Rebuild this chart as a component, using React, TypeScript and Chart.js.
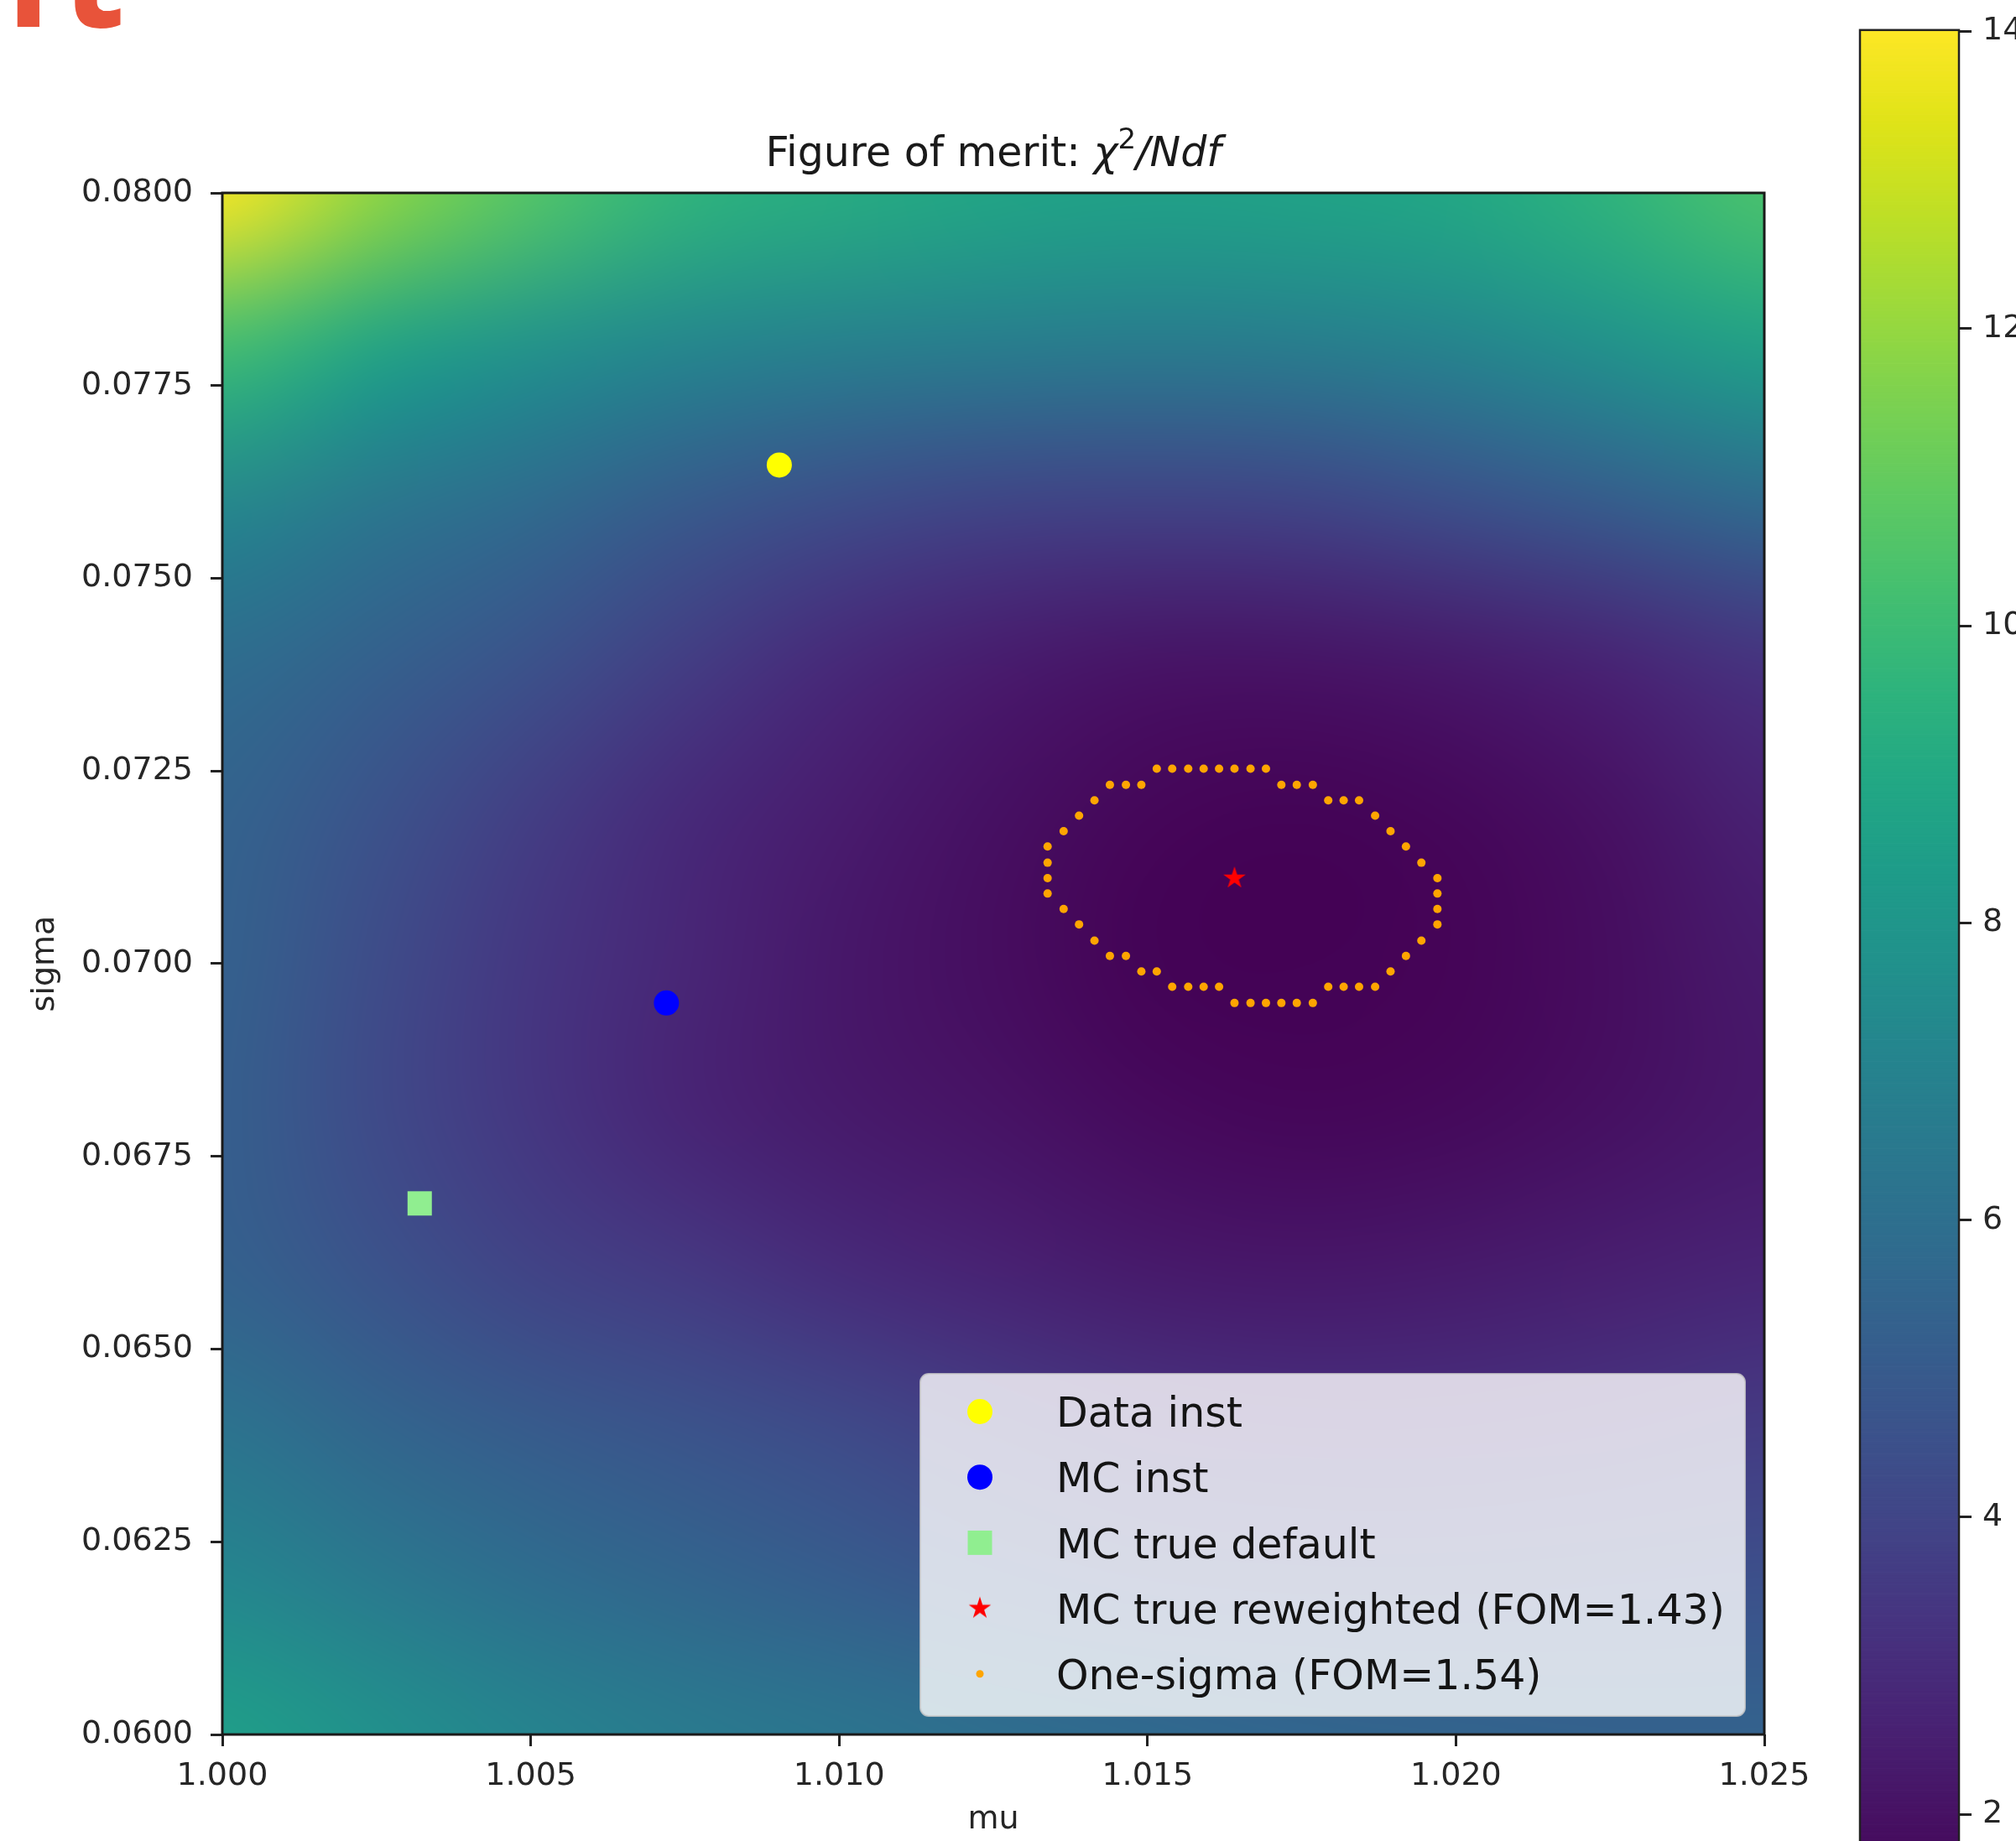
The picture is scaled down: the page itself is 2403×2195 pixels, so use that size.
import React, { useEffect, useRef } from 'react';
import { Chart, registerables } from 'chart.js';

Chart.register(...registerables);

const FONT = "'DejaVu Sans', 'Liberation Sans', sans-serif";

// ---------------- data ----------------
const muGrid = [1.0, 1.0025, 1.005, 1.0075, 1.01, 1.0125, 1.015, 1.0175, 1.02, 1.0225, 1.025];
const sigmaGrid = [0.08, 0.078, 0.076, 0.074, 0.072, 0.07, 0.068, 0.066, 0.064, 0.062, 0.06];

// chi2/Ndf read along each sigma row (mu from 1.000 to 1.025)
const fomAt0800 = [13.9, 11.9, 10.6, 9.6, 9.2, 8.8, 8.6, 8.7, 9.0, 9.6, 10.4];
const fomAt0780 = [10.1, 8.7, 7.8, 7.2, 6.9, 6.7, 6.6, 6.7, 7.1, 7.8, 8.6];
const fomAt0760 = [7.3, 6.4, 5.8, 5.0, 4.4, 4.0, 3.9, 4.0, 4.5, 5.1, 5.8];
const fomAt0740 = [5.9, 5.3, 4.6, 3.7, 2.9, 2.4, 2.1, 2.1, 2.3, 2.7, 3.3];
const fomAt0720 = [5.4, 4.6, 3.7, 2.9, 2.4, 1.95, 1.6, 1.5, 1.65, 2.0, 2.6];
const fomAt0700 = [5.3, 4.3, 3.4, 2.75, 2.2, 1.85, 1.5, 1.45, 1.55, 1.85, 2.3];
const fomAt0680 = [5.2, 4.2, 3.4, 2.7, 2.3, 2.05, 1.75, 1.6, 1.7, 1.95, 2.25];
const fomAt0660 = [5.3, 4.6, 3.9, 3.5, 2.95, 2.6, 2.3, 2.2, 2.3, 2.5, 2.7];
const fomAt0640 = [6.2, 5.5, 5.0, 4.6, 4.2, 3.7, 3.35, 3.2, 3.2, 3.35, 3.6];
const fomAt0620 = [7.2, 6.5, 5.9, 5.5, 5.1, 4.7, 4.4, 4.3, 4.3, 4.4, 4.5];
const fomAt0600 = [8.5, 7.7, 7.1, 6.6, 6.3, 6.0, 5.8, 5.6, 5.5, 5.4, 5.4];

const fomMin = 1.43;
const fomMax = 14.01;

const dataInstMu = [1.00903];
const dataInstSigma = [0.07647];
const mcInstMu = [1.0072];
const mcInstSigma = [0.06949];
const mcTrueDefaultMu = [1.0032];
const mcTrueDefaultSigma = [0.06689];
const mcReweightedMu = [1.01641];
const mcReweightedSigma = [0.07111];

const oneSigmaMu = [
  1.01515, 1.0154, 1.01566, 1.01591, 1.01616, 1.01641, 1.01667, 1.01692,
  1.01439, 1.01465, 1.0149, 1.01717, 1.01742, 1.01768,
  1.01414, 1.01793, 1.01818, 1.01843,
  1.01389, 1.01869,
  1.01364, 1.01894,
  1.01338, 1.01919,
  1.01338, 1.01944,
  1.01338, 1.0197,
  1.01338, 1.0197,
  1.01364, 1.0197,
  1.01389, 1.0197,
  1.01414, 1.01944,
  1.01439, 1.01465, 1.01919,
  1.0149, 1.01515, 1.01894,
  1.0154, 1.01566, 1.01591, 1.01616, 1.01793, 1.01818, 1.01843, 1.01869,
  1.01641, 1.01667, 1.01692, 1.01717, 1.01742, 1.01768,
];
const oneSigmaSigma = [
  0.07253, 0.07253, 0.07253, 0.07253, 0.07253, 0.07253, 0.07253, 0.07253,
  0.07232, 0.07232, 0.07232, 0.07232, 0.07232, 0.07232,
  0.07212, 0.07212, 0.07212, 0.07212,
  0.07192, 0.07192,
  0.07172, 0.07172,
  0.07152, 0.07152,
  0.07131, 0.07131,
  0.07111, 0.07111,
  0.07091, 0.07091,
  0.07071, 0.07071,
  0.07051, 0.07051,
  0.0703, 0.0703,
  0.0701, 0.0701, 0.0701,
  0.0699, 0.0699, 0.0699,
  0.0697, 0.0697, 0.0697, 0.0697, 0.0697, 0.0697, 0.0697, 0.0697,
  0.06949, 0.06949, 0.06949, 0.06949, 0.06949, 0.06949,
];

const seriesLabels = [
  'Data inst',
  'MC inst',
  'MC true default',
  'MC true reweighted (FOM=1.43)',
  'One-sigma (FOM=1.54)',
];

const xTickValues = [1.0, 1.005, 1.01, 1.015, 1.02, 1.025];
const xTickLabels = ['1.000', '1.005', '1.010', '1.015', '1.020', '1.025'];
const yTickValues = [0.06, 0.0625, 0.065, 0.0675, 0.07, 0.0725, 0.075, 0.0775, 0.08];
const yTickLabels = ['0.0600', '0.0625', '0.0650', '0.0675', '0.0700', '0.0725', '0.0750', '0.0775', '0.0800'];
const cbTickValues = [2, 4, 6, 8, 10, 12, 14];
const cbTickLabels = ['2', '4', '6', '8', '10', '12', '14'];

const titleMain = 'Figure of merit: ';
const titleChi = 'χ';
const titleSup = '2';
const titleRest = '/Ndf';
const xAxisTitle = 'mu';
const yAxisTitle = 'sigma';
const cornerText = 'it';

// ---------------- styling helpers ----------------
const fomGrid = [
  fomAt0800, fomAt0780, fomAt0760, fomAt0740, fomAt0720, fomAt0700,
  fomAt0680, fomAt0660, fomAt0640, fomAt0620, fomAt0600,
];

const VIRIDIS = [
  '#440154', '#471365', '#482475', '#463480', '#414487', '#3b528b', '#355f8d',
  '#2f6c8e', '#2a788e', '#25848e', '#21918c', '#1e9c89', '#22a884', '#2fb47c',
  '#44bf70', '#5ec962', '#7ad151', '#9bd93c', '#bddf26', '#dfe318', '#fde725',
];
const VIR_RGB = VIRIDIS.map((h) => [
  parseInt(h.slice(1, 3), 16),
  parseInt(h.slice(3, 5), 16),
  parseInt(h.slice(5, 7), 16),
]);
function viridis(t: number): number[] {
  const tt = Math.max(0, Math.min(1, t));
  const p = tt * (VIR_RGB.length - 1);
  const i = Math.min(VIR_RGB.length - 2, Math.floor(p));
  const f = p - i;
  const a = VIR_RGB[i];
  const b = VIR_RGB[i + 1];
  return [a[0] + (b[0] - a[0]) * f, a[1] + (b[1] - a[1]) * f, a[2] + (b[2] - a[2]) * f];
}
const norm = (v: number) => (v - fomMin) / (fomMax - fomMin);

function makeStar(R: number, color: string): HTMLCanvasElement {
  const c = document.createElement('canvas');
  const s = Math.ceil(R * 2 + 4);
  c.width = s;
  c.height = s;
  const g = c.getContext('2d')!;
  g.translate(s / 2, s / 2);
  g.beginPath();
  for (let k = 0; k < 10; k++) {
    const r = k % 2 === 0 ? R : R * 0.381966;
    const a = -Math.PI / 2 + (k * Math.PI) / 5;
    const px = r * Math.cos(a);
    const py = r * Math.sin(a);
    if (k === 0) g.moveTo(px, py);
    else g.lineTo(px, py);
  }
  g.closePath();
  g.fillStyle = color;
  g.fill();
  return c;
}

const toPoints = (xs: number[], ys: number[]) => xs.map((x, i) => ({ x, y: ys[i] }));

const heatmapPlugin = {
  id: 'heatmap',
  beforeDatasetsDraw(chart: any) {
    const { ctx, chartArea, scales } = chart;
    const xs = scales.x;
    const ys = scales.y;
    const nC = muGrid.length;
    const nR = sigmaGrid.length;
    const off = document.createElement('canvas');
    off.width = nC;
    off.height = nR;
    const octx = off.getContext('2d')!;
    const img = octx.createImageData(nC, nR);
    for (let r = 0; r < nR; r++) {
      for (let c = 0; c < nC; c++) {
        const col = viridis(norm(fomGrid[r][c]));
        const k = (r * nC + c) * 4;
        img.data[k] = Math.round(col[0]);
        img.data[k + 1] = Math.round(col[1]);
        img.data[k + 2] = Math.round(col[2]);
        img.data[k + 3] = 255;
      }
    }
    octx.putImageData(img, 0, 0);
    const dmu = (muGrid[nC - 1] - muGrid[0]) / (nC - 1);
    const ds = (sigmaGrid[0] - sigmaGrid[nR - 1]) / (nR - 1);
    const x0 = xs.getPixelForValue(muGrid[0] - dmu / 2);
    const x1 = xs.getPixelForValue(muGrid[nC - 1] + dmu / 2);
    const y0 = ys.getPixelForValue(sigmaGrid[0] + ds / 2);
    const y1 = ys.getPixelForValue(sigmaGrid[nR - 1] - ds / 2);
    ctx.save();
    ctx.beginPath();
    ctx.rect(chartArea.left, chartArea.top, chartArea.right - chartArea.left, chartArea.bottom - chartArea.top);
    ctx.clip();
    ctx.imageSmoothingEnabled = true;
    ctx.imageSmoothingQuality = 'high';
    ctx.drawImage(off, x0, y0, x1 - x0, y1 - y0);
    ctx.restore();
  },
};

function drawMarker(ctx: CanvasRenderingContext2D, ds: any, x: number, y: number) {
  const style = ds.pointStyle;
  const r = ds.pointRadius;
  ctx.fillStyle = ds.pointBackgroundColor;
  if (style && typeof style === 'object') {
    ctx.drawImage(style, x - style.width / 2, y - style.height / 2);
  } else if (style === 'rect') {
    const h = r * Math.SQRT1_2;
    ctx.fillRect(x - h, y - h, 2 * h, 2 * h);
  } else {
    ctx.beginPath();
    ctx.arc(x, y, r, 0, Math.PI * 2);
    ctx.fill();
  }
}

const legendPlugin = {
  id: 'mplLegend',
  afterDatasetsDraw(chart: any) {
    const { ctx, chartArea } = chart;
    const w = 983;
    const h = 408;
    const right = chartArea.right - 23;
    const bottom = chartArea.bottom - 22;
    const left = right - w;
    const top = bottom - h;
    ctx.save();
    ctx.beginPath();
    ctx.roundRect(left, top, w, h, 10);
    ctx.fillStyle = 'rgba(255,255,255,0.8)';
    ctx.fill();
    ctx.lineWidth = 2;
    ctx.strokeStyle = 'rgba(204,204,204,0.8)';
    ctx.stroke();
    const fs = 49;
    chart.data.datasets.forEach((ds: any, i: number) => {
      const cy = top + 45 + i * 78.2;
      const legendDs = i === 4 ? { ...ds, pointRadius: 4.5 } : ds;
      drawMarker(ctx, legendDs, left + 71, cy);
      ctx.font = `${fs}px ${FONT}`;
      ctx.fillStyle = '#141414';
      ctx.textAlign = 'left';
      ctx.textBaseline = 'alphabetic';
      ctx.fillText(ds.label, left + 162, cy + fs * 0.37);
    });
    ctx.restore();
  },
};

const framePlugin = {
  id: 'frameAndTitle',
  afterDraw(chart: any) {
    const { ctx, chartArea } = chart;
    ctx.save();
    ctx.lineWidth = 3;
    ctx.strokeStyle = '#1a1a1a';
    ctx.strokeRect(chartArea.left, chartArea.top, chartArea.right - chartArea.left, chartArea.bottom - chartArea.top);

    // title with mathtext-like pieces
    const size = 49;
    const parts = [
      { text: titleMain, font: `${size}px ${FONT}`, dy: 0 },
      { text: titleChi, font: `italic ${size}px ${FONT}`, dy: 0 },
      { text: titleSup, font: `${Math.round(size * 0.7)}px ${FONT}`, dy: -size * 0.42 },
      { text: titleRest, font: `italic ${size}px ${FONT}`, dy: 0 },
    ];
    let total = 0;
    const widths = parts.map((p) => {
      ctx.font = p.font;
      const wv = ctx.measureText(p.text).width;
      total += wv;
      return wv;
    });
    let x = (chartArea.left + chartArea.right) / 2 - total / 2;
    const base = chartArea.top - 32;
    ctx.fillStyle = '#1a1a1a';
    ctx.textAlign = 'left';
    ctx.textBaseline = 'alphabetic';
    parts.forEach((p, i) => {
      ctx.font = p.font;
      ctx.fillText(p.text, x, base + p.dy);
      x += widths[i];
    });

    // cropped slide heading fragment at the top-left
    ctx.font = `bold 176px 'Open Sans', 'DejaVu Sans', sans-serif`;
    (ctx as any).letterSpacing = '12px';
    ctx.fillStyle = '#e8533a';
    ctx.fillText(cornerText, 7, 32);
    (ctx as any).letterSpacing = '0px';
    ctx.restore();
  },
};

const colorbarPlugin = {
  id: 'cbGradient',
  beforeDatasetsDraw(chart: any) {
    const { ctx, chartArea, scales } = chart;
    const y = scales.y;
    const n = 600;
    ctx.save();
    for (let k = 0; k < n; k++) {
      const v0 = fomMin + ((fomMax - fomMin) * k) / n;
      const v1 = fomMin + ((fomMax - fomMin) * (k + 1)) / n;
      const ya = y.getPixelForValue(v1);
      const yb = y.getPixelForValue(v0);
      const c = viridis(norm((v0 + v1) / 2));
      ctx.fillStyle = `rgb(${Math.round(c[0])},${Math.round(c[1])},${Math.round(c[2])})`;
      ctx.fillRect(chartArea.left, ya, chartArea.right - chartArea.left, yb - ya + 0.7);
    }
    ctx.lineWidth = 2.5;
    ctx.strokeStyle = '#222';
    ctx.strokeRect(chartArea.left, chartArea.top, chartArea.right - chartArea.left, chartArea.bottom - chartArea.top);
    ctx.restore();
  },
};

export default function App() {
  const mainRef = useRef<HTMLCanvasElement>(null);
  const cbRef = useRef<HTMLCanvasElement>(null);

  useEffect(() => {
    const star = makeStar(14, '#ff0000');
    const tickFont = { family: FONT, size: 38 };
    const grid = {
      drawOnChartArea: false,
      drawTicks: true,
      tickLength: 14,
      tickWidth: 3,
      tickColor: '#222',
      lineWidth: 3,
      color: '#222',
    };
    const main = new Chart(mainRef.current!, {
      type: 'scatter',
      data: {
        datasets: [
          {
            label: seriesLabels[0],
            data: toPoints(dataInstMu, dataInstSigma),
            pointStyle: 'circle',
            pointRadius: 15,
            pointBorderWidth: 0,
            pointBackgroundColor: '#ffff00',
            pointBorderColor: '#ffff00',
            backgroundColor: '#ffff00',
            borderColor: '#ffff00',
          },
          {
            label: seriesLabels[1],
            data: toPoints(mcInstMu, mcInstSigma),
            pointStyle: 'circle',
            pointRadius: 15,
            pointBorderWidth: 0,
            pointBackgroundColor: '#0000ff',
            pointBorderColor: '#0000ff',
            backgroundColor: '#0000ff',
            borderColor: '#0000ff',
          },
          {
            label: seriesLabels[2],
            data: toPoints(mcTrueDefaultMu, mcTrueDefaultSigma),
            pointStyle: 'rect',
            pointRadius: 20.5,
            pointBorderWidth: 0,
            pointBackgroundColor: '#90ee90',
            pointBorderColor: '#90ee90',
            backgroundColor: '#90ee90',
            borderColor: '#90ee90',
          },
          {
            label: seriesLabels[3],
            data: toPoints(mcReweightedMu, mcReweightedSigma),
            pointStyle: star as any,
            pointRadius: 14,
            pointBorderWidth: 0,
            pointBackgroundColor: '#ff0000',
            pointBorderColor: '#ff0000',
            backgroundColor: '#ff0000',
            borderColor: '#ff0000',
          },
          {
            label: seriesLabels[4],
            data: toPoints(oneSigmaMu, oneSigmaSigma),
            pointStyle: 'circle',
            pointRadius: 5,
            pointBorderWidth: 0,
            pointBackgroundColor: '#ffa500',
            pointBorderColor: '#ffa500',
            backgroundColor: '#ffa500',
            borderColor: '#ffa500',
          },
        ],
      },
      options: {
        responsive: false,
        animation: false,
        events: [],
        layout: { padding: { left: 0, top: 230, right: 300, bottom: 0 } },
        plugins: {
          legend: { display: false },
          tooltip: { enabled: false },
          title: { display: false },
        },
        scales: {
          x: {
            type: 'linear',
            position: 'bottom',
            min: 1.0,
            max: 1.025,
            afterBuildTicks: (s: any) => {
              s.ticks = xTickValues.map((v) => ({ value: v }));
            },
            afterFit: (s: any) => {
              s.height = 127;
            },
            ticks: {
              callback: (_v: any, i: number) => xTickLabels[i],
              font: tickFont,
              color: '#262626',
              padding: 13,
              autoSkip: false,
              maxRotation: 0,
              minRotation: 0,
            },
            grid,
            border: { display: false },
            title: {
              display: true,
              text: xAxisTitle,
              font: tickFont,
              color: '#262626',
              padding: { top: 0, bottom: 2 },
            },
          },
          y: {
            type: 'linear',
            position: 'left',
            min: 0.06,
            max: 0.08,
            afterBuildTicks: (s: any) => {
              s.ticks = yTickValues.map((v) => ({ value: v }));
            },
            afterFit: (s: any) => {
              s.width = 265;
            },
            ticks: {
              callback: (_v: any, i: number) => yTickLabels[i],
              font: tickFont,
              color: '#262626',
              padding: 21,
              autoSkip: false,
            },
            grid,
            border: { display: false },
            title: {
              display: true,
              text: yAxisTitle,
              font: tickFont,
              color: '#262626',
              padding: { top: 31, bottom: 0 },
            },
          },
        },
      } as any,
      plugins: [heatmapPlugin, legendPlugin, framePlugin],
    });

    const cb = new Chart(cbRef.current!, {
      type: 'scatter',
      data: { datasets: [] },
      options: {
        responsive: false,
        animation: false,
        events: [],
        layout: { padding: { left: 67, top: 28, bottom: 29, right: 0 } },
        plugins: { legend: { display: false }, tooltip: { enabled: false } },
        scales: {
          x: { display: false, min: 0, max: 1 },
          y: {
            type: 'linear',
            position: 'right',
            min: fomMin,
            max: fomMax,
            afterBuildTicks: (s: any) => {
              s.ticks = cbTickValues.map((v) => ({ value: v }));
            },
            afterFit: (s: any) => {
              s.width = 68;
            },
            ticks: {
              callback: (_v: any, i: number) => cbTickLabels[i],
              font: tickFont,
              color: '#262626',
              padding: 13,
              autoSkip: false,
            },
            grid: { ...grid, tickLength: 15 },
            border: { display: false },
          },
        },
      } as any,
      plugins: [colorbarPlugin],
    });

    return () => {
      main.destroy();
      cb.destroy();
    };
  }, []);

  return (
    <div
      style={{
        position: 'fixed',
        left: 0,
        top: 0,
        width: 2403,
        height: 2195,
        overflow: 'hidden',
        background: '#ffffff',
      }}
    >
      <canvas
        ref={mainRef}
        width={2403}
        height={2195}
        style={{ position: 'absolute', left: 0, top: 0, width: 2403, height: 2195 }}
      />
      <canvas
        ref={cbRef}
        width={253}
        height={2300}
        style={{ position: 'absolute', left: 2150, top: 0, width: 253, height: 2300 }}
      />
    </div>
  );
}
